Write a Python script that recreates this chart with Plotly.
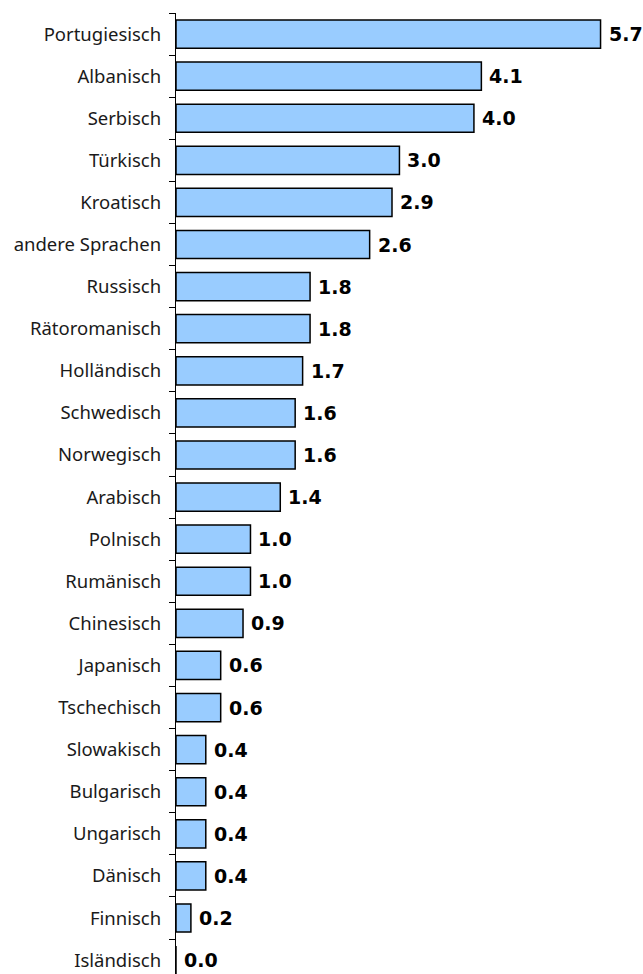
import plotly.graph_objects as go

# Sprachen und Anteile (%)
languages = [
    "Portugiesisch", "Albanisch", "Serbisch", "Türkisch", "Kroatisch",
    "andere Sprachen", "Russisch", "Rätoromanisch", "Holländisch", "Schwedisch",
    "Norwegisch", "Arabisch", "Polnisch", "Rumänisch", "Chinesisch",
    "Japanisch", "Tschechisch", "Slowakisch", "Bulgarisch", "Ungarisch",
    "Dänisch", "Finnisch", "Isländisch",
]
shares = [
    5.7, 4.1, 4.0, 3.0, 2.9,
    2.6, 1.8, 1.8, 1.7, 1.6,
    1.6, 1.4, 1.0, 1.0, 0.9,
    0.6, 0.6, 0.4, 0.4, 0.4,
    0.4, 0.2, 0.0,
]

fig = go.Figure()
fig.add_trace(go.Bar(
    x=shares,
    y=languages,
    orientation="h",
    marker=dict(color="#99CCFF", line=dict(color="#000000", width=1.5)),
    hoverinfo="skip",
))

# Wertbeschriftungen rechts neben den Balken
for lang, val in zip(languages, shares):
    fig.add_annotation(
        x=val, y=lang, text=f"<b>{val:.1f}</b>",
        xanchor="left", yanchor="middle", xshift=6, showarrow=False,
        font=dict(family="DejaVu Sans, sans-serif", size=19, color="#000000"),
    )

fig.update_layout(
    width=643, height=974,
    margin=dict(l=176, r=0, t=13, b=0),
    paper_bgcolor="white", plot_bgcolor="white",
    bargap=0.33,
    showlegend=False,
    font=dict(family="Noto Sans, sans-serif", size=18.5, color="#1a1a1a"),
)
fig.update_xaxes(
    range=[0, 6.27], visible=False, showgrid=False, zeroline=False,
)
fig.update_yaxes(
    type="category",
    categoryorder="array", categoryarray=languages,
    range=[22.33, -0.5], autorange=False,
    showline=True, linecolor="#000000", linewidth=1.2,
    ticks="outside", tickson="boundaries", ticklen=6, tickcolor="#000000", tickwidth=1.2,
    showgrid=False, zeroline=False,
    ticklabelstandoff=10,
)

fig.write_html("out.html")
